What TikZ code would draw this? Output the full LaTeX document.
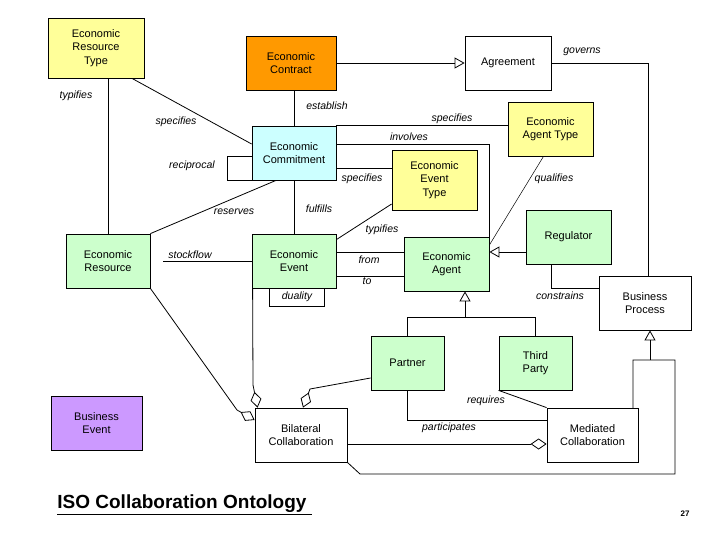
\documentclass[tikz,border=0pt]{standalone}
\usepackage{fontspec}
\setmainfont{Liberation Sans}
\usetikzlibrary{arrows.meta,calc}
\definecolor{cyel}{HTML}{FFFF99}
\definecolor{cora}{HTML}{FF9900}
\definecolor{ccya}{HTML}{CCFFFF}
\definecolor{cgrn}{HTML}{CCFFCC}
\definecolor{cpur}{HTML}{CC99FF}
\begin{document}
\begin{tikzpicture}[x=1pt,y=-1pt,line width=0.8pt,
 box/.style={draw,align=center,font=\fontsize{11}{13.5}\selectfont,inner sep=1pt},
 lbl/.style={font=\fontsize{10.5}{12}\selectfont\itshape,inner sep=1pt},
 gen/.style={-{Triangle[open,length=10pt,width=11pt]}},
 agg/.style={-{Diamond[open,length=16pt,width=11pt]}}]
\useasboundingbox (0,0) rectangle (720,540);
\node[box,fill=cyel,minimum width=96,minimum height=60] (ert) at (96,48) {Economic\\Resource\\Type};
\node[box,fill=cora,minimum width=90,minimum height=54] (ec) at (291,63) {Economic\\Contract};
\node[box,minimum width=86,minimum height=54] (agr) at (508,63) {Agreement};
\node[box,fill=ccya,minimum width=84,minimum height=54] (com) at (294,153) {Economic\\Commitment};
\node[box,fill=cyel,minimum width=85,minimum height=54] (eat) at (550.5,129) {Economic\\Agent Type};
\node[box,fill=cyel,minimum width=85,minimum height=60] (eet) at (434.5,180) {Economic\\Event\\Type};
\node[box,fill=cgrn,minimum width=84,minimum height=54] (res) at (108,261) {Economic\\Resource};
\node[box,fill=cgrn,minimum width=84,minimum height=54] (evt) at (294,261) {Economic\\Event};
\node[box,fill=cgrn,minimum width=85,minimum height=54] (agt) at (446.5,264) {Economic\\Agent};
\node[box,fill=cgrn,minimum width=85,minimum height=54] (reg) at (568.5,237) {Regulator};
\node[box,minimum width=92,minimum height=54] (bp) at (645,303) {Business\\Process};
\node[box,fill=cgrn,minimum width=73,minimum height=54] (par) at (407.5,363) {Partner};
\node[box,fill=cgrn,minimum width=73,minimum height=54] (tp) at (535.5,363) {Third\\Party};
\node[box,fill=cpur,minimum width=91,minimum height=54] (bev) at (96.5,423) {Business\\Event};
\node[box,minimum width=92,minimum height=54] (bil) at (301,435) {Bilateral\\Collaboration};
\node[box,minimum width=91,minimum height=54] (med) at (592.5,435) {Mediated\\Collaboration};
\node[lbl,inner sep=2pt,minimum width=54,minimum height=17] (dual) at (297,297) {duality};
\draw (dual.north west)--(dual.south west)--(dual.south east)--(dual.north east);
% connectors
\draw (ert.south -| res.north) -- (res.north);
\draw ($(ert.south)+(36,0)$) -- ($(com.west)+(0,-9)$);
\draw (ec.south -| com.north) -- (com.north);
\draw[gen] (ec.east) -- (agr.west);
\draw ($(com.west)+(0,3)$) -- ($(com.west)+(-24,3)$) -- ($(com.south west)+(-24,0)$) -- (com.south west);
\draw (com.north east) -- (eat.west |- com.north east);
\draw ($(com.east)+(0,-9)$) coordinate (c0) -- (c0 -| agt.north east) -- (agt.north east);
\draw ($(com.east)+(0,15)$) coordinate (c3) -- (c3 -| eet.west);
\draw ($(com.south)+(-18,0)$) -- (res.north east);
\draw (com.south) -- (evt.north);
\draw ($(eet.west)+(0,24)$) -- ($(evt.north east)+(0,6)$);
\draw ($(evt.east)+(0,-9)$) coordinate (c4) -- (c4 -| agt.west);
\draw ($(evt.east)+(0,15)$) coordinate (c5) -- (c5 -| agt.west);
\draw[line width=0.5pt] ($(eat.south)+(-7,0)$) -- ($(agt.east)+(0,-19)$);
\draw[gen] ($(reg.west)+(0,15)$) coordinate (c6) -- (c6 -| agt.east);
\draw ($(reg.south)+(-17,0)$) -- ++(0,24) coordinate (c1) -- (c1 -| bp.west);
\draw (agr.east) -- ($(agr.east -| bp.north)+(3,0)$) -- ($(bp.north)+(3,0)$);
\draw (par.north) -- ++(0,-18) coordinate (g1) -- (g1 -| tp.north) -- (tp.north);
\draw[gen] ($(g1 -| agt.south)+(18.5,0)$) -- ($(agt.south)+(18.5,0)$);
\draw[agg] (res.south east) -- (237,410) -- ($(bil.west)+(0,-15)$);
\draw[agg] ($(evt.south west)+(1,0)$) -- (253,385) -- ($(bil.north west)+(3,0)$);
\draw[agg] ($(par.west)+(0,15)$) -- (310,389) -- ($(bil.north)+(2,0)$);
\draw (par.south) -- ++(0,30) coordinate (c2) -- (c2 -| med.west);
\draw (tp.south west) -- (med.north west);
\draw[agg] ($(bil.east)+(0,9)$) coordinate (c7) -- (c7 -| med.west);
\draw (bil.south east) -- (360,474) -- (675,474) -- (675,360) -- (633,360) -- (633,408);
\draw[gen] (650,360) -- (bp.south -| 650,0);
% labels
\node[lbl] (l1) at (76,96) {typifies};
\node[lbl] (l2) at (176,122) {specifies};
\node[lbl] (l3) at (327,106) {establish};
\node[lbl] (l4) at (192,166) {reciprocal};
\node[lbl] (l5) at (452,119) {specifies};
\node[lbl] (l6) at (409,137) {involves};
\node[lbl] (l7) at (362,179) {specifies};
\node[lbl] (l8) at (234,212) {reserves};
\node[lbl] (l9) at (319,209) {fulfills};
\node[lbl] (l10) at (382,230) {typifies};
\node[lbl] (l11) at (369,260) {from};
\node[lbl] (l12) at (367,281) {to};
\node[lbl] (l13) at (554,179) {qualifies};
\node[lbl] (l14) at (560,296) {constrains};
\node[lbl] (l15) at (582,52) {governs};
\node[lbl] (l16) at (190,255) {stockflow};
\draw (163,261) -- (evt.west);
\node[lbl] (l17) at (486,401) {requires};
\node[lbl] (l18) at (449,428) {participates};
\node[font=\fontsize{19}{21}\selectfont\bfseries,anchor=west,inner sep=0pt] (tt) at (57,505) {\underline{ISO Collaboration Ontology\ }};
\node[font=\fontsize{8}{9}\selectfont\bfseries] (pg) at (685,514) {27};
\end{tikzpicture}
\end{document}
